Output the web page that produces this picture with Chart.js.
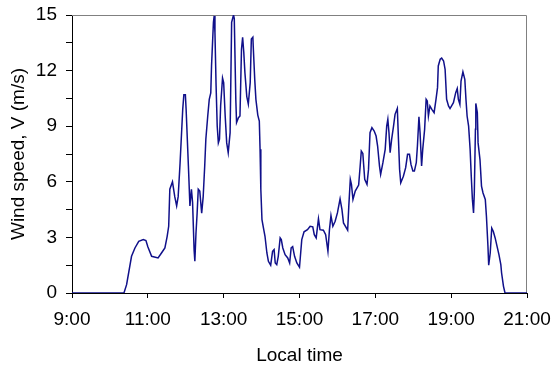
<!DOCTYPE html>
<html>
<head>
<meta charset="utf-8">
<script src="https://cdn.jsdelivr.net/npm/chart.js@4/dist/chart.umd.min.js"></script>
<style>
  html, body { margin: 0; padding: 0; background: #fff; }
  #wrap { width: 552px; height: 367px; }
</style>
</head>
<body>
<div id="wrap"><canvas id="windSpeed"></canvas></div>
<script>
// local time in decimal hours
const hours = [
  9.00, 10.37, 10.44, 10.57, 10.66, 10.76, 10.88, 10.95, 11.00, 11.10,
  11.27, 11.36, 11.45, 11.51, 11.55, 11.58, 11.65, 11.71, 11.76, 11.80,
  11.85, 11.92, 11.95, 11.99, 12.01, 12.07, 12.11, 12.15, 12.18, 12.22,
  12.24, 12.27, 12.30, 12.33, 12.37, 12.42, 12.46, 12.50, 12.53, 12.58,
  12.62, 12.66, 12.68, 12.73, 12.75, 12.77, 12.80, 12.83, 12.86, 12.89,
  12.92, 12.97, 13.00, 13.04, 13.08, 13.12, 13.17, 13.21, 13.26, 13.28,
  13.32, 13.34, 13.39, 13.43, 13.47, 13.50, 13.53, 13.56, 13.61, 13.65,
  13.70, 13.73, 13.77, 13.78, 13.82, 13.85, 13.90, 13.94, 13.96, 13.98,
  14.01, 14.05, 14.09, 14.14, 14.18, 14.24, 14.29, 14.33, 14.36, 14.40,
  14.44, 14.49, 14.52, 14.56, 14.62, 14.69, 14.74, 14.78, 14.82, 14.87,
  14.93, 15.00, 15.06, 15.12, 15.21, 15.28, 15.35, 15.39, 15.44, 15.50,
  15.54, 15.63, 15.69, 15.75, 15.79, 15.83, 15.88, 15.94, 16.00, 16.07,
  16.12, 16.16, 16.27, 16.30, 16.34, 16.37, 16.41, 16.47, 16.56, 16.60,
  16.63, 16.67, 16.72, 16.78, 16.82, 16.86, 16.91, 16.97, 17.02, 17.06,
  17.11, 17.14, 17.20, 17.26, 17.30, 17.33, 17.36, 17.39, 17.43, 17.48,
  17.52, 17.58, 17.61, 17.64, 17.67, 17.74, 17.80, 17.85, 17.90, 17.94,
  17.99, 18.03, 18.08, 18.11, 18.15, 18.18, 18.22, 18.25, 18.30, 18.34,
  18.37, 18.40, 18.44, 18.49, 18.55, 18.60, 18.64, 18.66, 18.71, 18.75,
  18.80, 18.84, 18.88, 18.93, 18.97, 19.06, 19.12, 19.16, 19.19, 19.23,
  19.26, 19.31, 19.36, 19.39, 19.42, 19.46, 19.50, 19.53, 19.56, 19.59,
  19.61, 19.64, 19.65, 19.69, 19.71, 19.76, 19.80, 19.84, 19.90, 19.93,
  19.97, 19.99, 20.03, 20.07, 20.11, 20.16, 20.20, 20.26, 20.31, 20.33,
  20.38, 20.42, 21.00
];

// wind speed V (m/s)
const speeds = [
  0, 0, 0.45, 1.98, 2.43, 2.79, 2.88, 2.83, 2.5, 1.98,
  1.89, 2.16, 2.43, 3.06, 3.6, 5.6, 6.0, 5.2, 4.7, 5.2,
  7.0, 9.9, 10.7, 10.7, 9.9, 6.85, 4.7, 5.6, 4.9, 2.34,
  1.71, 3.24, 4.3, 5.6, 5.5, 4.3, 5.2, 6.85, 8.3, 9.55,
  10.45, 10.8, 12.25, 14.6, 14.95, 14.05, 11.2, 9.0, 8.1, 8.3,
  10.1, 11.6, 11.35, 9.55, 8.1, 7.57, 8.65, 14.6, 15.0, 14.8,
  10.45, 9.2, 9.46, 9.55, 13.15, 13.8, 13.0, 11.9, 10.6, 10.2,
  11.35, 13.7, 13.8, 13.3, 11.5, 10.45, 9.6, 9.28, 7.75, 5.6,
  3.96, 3.5, 3.06, 2.16, 1.71, 1.5, 2.25, 2.34, 1.62, 1.53,
  1.98, 2.97, 2.88, 2.43, 2.07, 1.89, 1.62, 2.43, 2.5, 1.98,
  1.62, 1.39, 2.88, 3.3, 3.42, 3.6, 3.57, 3.15, 2.97, 4.0,
  3.42, 3.39, 3.15, 2.25, 3.42, 4.18, 3.6, 3.87, 4.32, 5.08,
  4.5, 3.78, 3.39, 4.68, 6.13, 5.86, 5.05, 5.5, 5.82, 6.85,
  7.66, 7.53, 6.13, 5.86, 6.67, 8.65, 8.92, 8.74, 8.47, 7.93,
  6.85, 6.4, 7.03, 7.75, 9.0, 9.37, 8.65, 7.57, 8.29, 9.0,
  9.64, 9.96, 8.29, 6.67, 5.95, 6.3, 6.76, 7.48, 7.48, 6.94,
  6.58, 6.58, 7.03, 7.93, 9.51, 8.65, 6.85, 7.75, 8.83, 10.45,
  10.36, 9.55, 10.09, 9.91, 9.73, 10.45, 11.08, 12.25, 12.61, 12.67,
  12.52, 12.07, 10.45, 10.09, 9.95, 10.27, 10.81, 11.03, 10.45, 10.18,
  11.44, 11.93, 11.53, 10.45, 9.55, 9.0, 7.75, 6.3, 5.05, 4.32,
  5.4, 8.83, 10.23, 9.73, 8.1, 7.2, 5.77, 5.4, 5.05, 4.14,
  2.52, 1.5, 2.16, 3.5, 3.33, 2.97, 2.61, 2.07, 1.53, 1.08,
  0.36, 0, 0
];

// axis ticks
const xTicks = [9, 11, 13, 15, 17, 19, 21];
const yTicks = [0, 3, 6, 9, 12, 15];

const points = hours.map((h, i) => ({ x: h, y: speeds[i] }));

const font = { family: 'Liberation Sans, Arial, sans-serif', size: 19 };

// grey frame on top and right of the plot area
const frame = {
  id: 'frame',
  beforeDatasetsDraw(chart) {
    const a = chart.chartArea;
    const ctx = chart.ctx;
    ctx.save();
    ctx.strokeStyle = '#808080';
    ctx.lineWidth = 1;
    ctx.beginPath();
    ctx.moveTo(a.left, a.top + 0.5);
    ctx.lineTo(a.right - 0.5, a.top + 0.5);
    ctx.lineTo(a.right - 0.5, a.bottom);
    ctx.stroke();
    ctx.restore();
  }
};

new Chart(document.getElementById('windSpeed'), {
  type: 'line',
  data: {
    datasets: [{
      data: points,
      borderColor: '#10108a',
      borderWidth: 1.5,
      pointRadius: 0,
      tension: 0,
      fill: false
    }]
  },
  options: {
    responsive: true,
    maintainAspectRatio: false,
    animation: false,
    layout: { padding: { top: 15, right: 25, left: 0, bottom: 0 } },
    plugins: { legend: { display: false }, tooltip: { enabled: false } },
    scales: {
      x: {
        type: 'linear',
        min: 9,
        max: 21,
        afterBuildTicks(scale) { scale.ticks = xTicks.map(v => ({ value: v })); },
        afterFit(scale) {
          scale.height = 74;
          scale.paddingLeft = 0;
          scale.paddingRight = 0;
        },
        ticks: {
          color: '#000',
          font: font,
          padding: 10,
          maxRotation: 0,
          autoSkip: false,
          callback: v => v + ':00'
        },
        grid: { drawOnChartArea: false, drawTicks: true, tickLength: 5, color: '#000' },
        border: { color: '#000', width: 1 },
        title: { display: true, text: 'Local time', color: '#000', font: font, padding: 0 }
      },
      y: {
        min: 0,
        max: 15,
        afterBuildTicks(scale) {
          const t = [];
          for (let v = 0; v <= 15; v += 1.5) t.push({ value: v });
          scale.ticks = t;
        },
        afterFit(scale) {
          scale.width = 72;
          scale.paddingTop = 0;
          scale.paddingBottom = 0;
        },
        ticks: {
          color: '#000',
          font: font,
          padding: 9,
          autoSkip: false,
          callback: v => yTicks.includes(v) ? String(v) : ''
        },
        grid: { drawOnChartArea: false, drawTicks: true, tickLength: 6, color: '#000' },
        border: { color: '#000', width: 1 },
        title: { display: true, text: 'Wind speed, V (m/s)', color: '#000', font: font, padding: { top: 7, bottom: 0 } }
      }
    }
  },
  plugins: [frame]
});
</script>
</body>
</html>
